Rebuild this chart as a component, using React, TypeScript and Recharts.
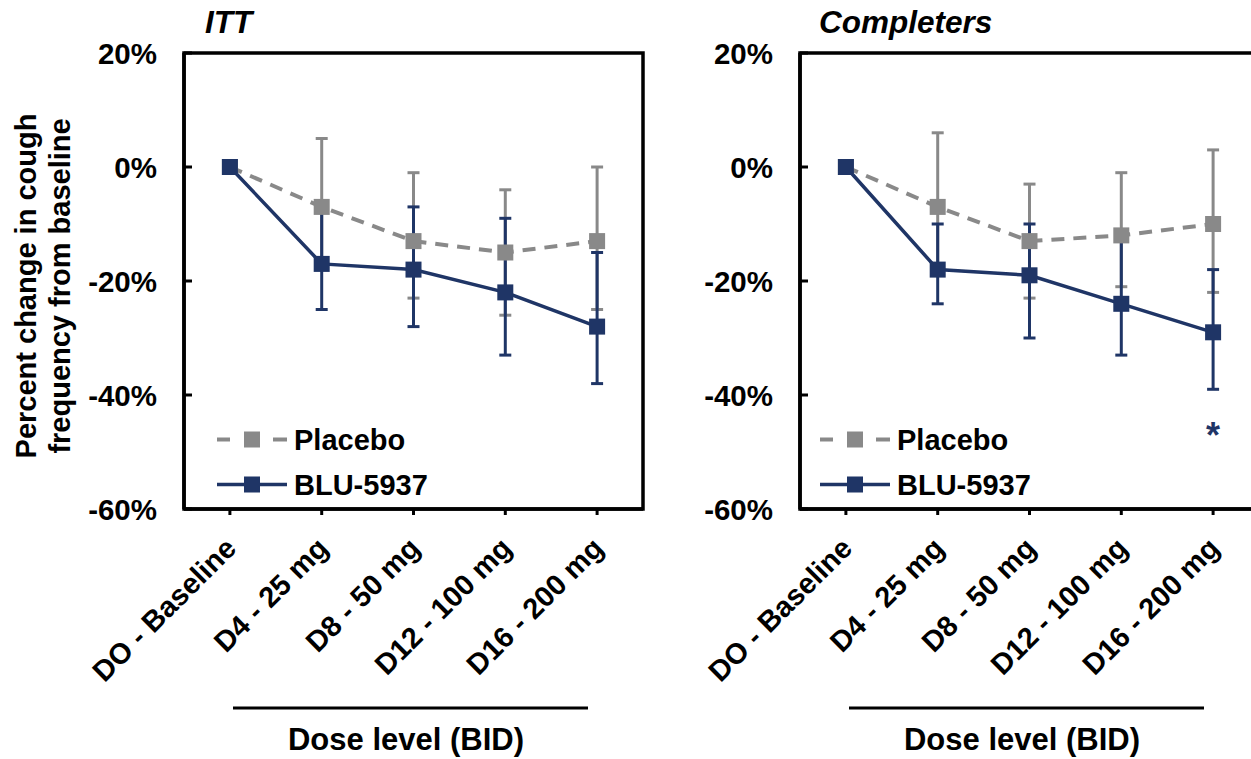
import React from 'react';
import { LineChart, Line, XAxis, YAxis, ErrorBar, ReferenceArea, ReferenceDot } from 'recharts';

// ---------- data ----------
const categories = ['DO - Baseline', 'D4 - 25 mg', 'D8 - 50 mg', 'D12 - 100 mg', 'D16 - 200 mg'];
const categoryIndex = [0, 1, 2, 3, 4];
const yTicks = [-60, -40, -20, 0, 20];

// ITT
const ittPlacebo = [0, -7, -13, -15, -13];
const ittPlaceboLow = [0, -17, -23, -26, -25];
const ittPlaceboHigh = [0, 5, -1, -4, 0];
const ittBlu = [0, -17, -18, -22, -28];
const ittBluLow = [0, -25, -28, -33, -38];
const ittBluHigh = [0, -7, -7, -9, -15];

// Completers
const compPlacebo = [0, -7, -13, -12, -10];
const compPlaceboLow = [0, -18, -23, -21, -22];
const compPlaceboHigh = [0, 6, -3, -1, 3];
const compBlu = [0, -18, -19, -24, -29];
const compBluLow = [0, -24, -30, -33, -39];
const compBluHigh = [0, -10, -10, -12, -18];

// significance marks (Completers)
const compStarIndex = 4;
const compStarValue = -47;

const panelTitles = ['ITT', 'Completers'];
const seriesNames = ['Placebo', 'BLU-5937'];
const xAxisTitle = 'Dose level (BID)';
const yAxisTitle = ['Percent change in cough', 'frequency from baseline'];

// ---------- styling ----------
const NAVY = '#1F3566';
const GRAY = '#898989';
const FONT = '"Liberation Sans", Arial, Helvetica, sans-serif';

function buildRows(p: number[], pl: number[], ph: number[], b: number[], bl: number[], bh: number[]) {
  return categoryIndex.map((i) => ({
    i,
    cat: categories[i],
    placebo: p[i],
    placeboErr: [p[i] - pl[i], ph[i] - p[i]],
    blu: b[i],
    bluErr: [b[i] - bl[i], bh[i] - b[i]],
  }));
}

const ittRows = buildRows(ittPlacebo, ittPlaceboLow, ittPlaceboHigh, ittBlu, ittBluLow, ittBluHigh);
const compRows = buildRows(compPlacebo, compPlaceboLow, compPlaceboHigh, compBlu, compBluLow, compBluHigh);

const squareDot = (color: string) => (props: any) => {
  const { cx, cy, index } = props;
  if (cx == null || cy == null) return <g key={`e${index}`} />;
  return <rect key={`d${index}`} x={cx - 8} y={cy - 8} width={16} height={16} fill={color} />;
};

const YTick = (props: any) => {
  const { x, y, payload } = props;
  const ax = x + 27;
  return (
    <g>
      <line x1={ax} x2={ax + 8} y1={y} y2={y} stroke="#000" strokeWidth={3} />
      <text x={x} y={y} dy={10.5} textAnchor="end" fontSize={29.5} fontWeight="bold" fontFamily={FONT} fill="#000">
        {payload.value}%
      </text>
    </g>
  );
};

const XTick = (props: any) => {
  const { x, y, payload } = props;
  const label = categories[payload.value];
  const tx = x + 8;
  const ty = y + 35;
  return (
    <text
      x={tx}
      y={ty}
      transform={`rotate(-45 ${tx} ${ty})`}
      textAnchor="end"
      fontSize={29}
      fontWeight="bold"
      fontFamily={FONT}
      fill="#000"
    >
      {label}
    </text>
  );
};

const xLabel = (props: any) => {
  const vb = props.viewBox || {};
  const x = vb.x ?? 0;
  const y = vb.y ?? 0;
  return (
    <g>
      <line x1={x + 49} x2={x + 404} y1={y + 199} y2={y + 199} stroke="#000" strokeWidth={3} />
      <text x={x + 222} y={y + 241} textAnchor="middle" fontSize={31} fontWeight="bold" fontFamily={FONT} fill="#000">
        {xAxisTitle}
      </text>
    </g>
  );
};

const yLabel = (props: any) => {
  const vb = props.viewBox || {};
  const cy = (vb.y ?? 0) + (vb.height ?? 0) / 2 + 5;
  const x1 = (vb.x ?? 0) + 36;
  const x2 = (vb.x ?? 0) + 70;
  return (
    <g>
      <text x={x1} y={cy} transform={`rotate(-90 ${x1} ${cy})`} textAnchor="middle" fontSize={29} fontWeight="bold" fontFamily={FONT} fill="#000">
        {yAxisTitle[0]}
      </text>
      <text x={x2} y={cy} transform={`rotate(-90 ${x2} ${cy})`} textAnchor="middle" fontSize={29} fontWeight="bold" fontFamily={FONT} fill="#000">
        {yAxisTitle[1]}
      </text>
    </g>
  );
};

function LegendBox() {
  return (
    <svg width={320} height={80} style={{ display: 'block', overflow: 'visible' }}>
      <line x1={0} x2={13} y1={14.5} y2={14.5} stroke={GRAY} strokeWidth={4} />
      <line x1={56} x2={70} y1={14.5} y2={14.5} stroke={GRAY} strokeWidth={4} />
      <rect x={27} y={6.5} width={16} height={16} fill={GRAY} />
      <text x={77} y={24.5} fontSize={29} fontWeight="bold" fontFamily={FONT} fill="#000">{seriesNames[0]}</text>
      <line x1={0} x2={70} y1={59.5} y2={59.5} stroke={NAVY} strokeWidth={3.5} />
      <rect x={27} y={51.5} width={16} height={16} fill={NAVY} />
      <text x={77} y={69.5} fontSize={29} fontWeight="bold" fontFamily={FONT} fill="#000">{seriesNames[1]}</text>
    </svg>
  );
}

function Panel(props: { rows: any[]; left: number; title: string; titleX: number; legendX: number; showY: boolean; star: boolean }) {
  const { rows, left, title, titleX, legendX, showY, star } = props;
  return (
    <div style={{ position: 'absolute', left, top: 0, width: 660, height: 759 }}>
      <LineChart width={660} height={759} data={rows} margin={{ top: 53, right: 17, bottom: 0, left: 0 }}>
        <XAxis
          dataKey="i"
          type="number"
          domain={[-0.5, 4.5]}
          ticks={categoryIndex}
          interval={0}
          tick={<XTick />}
          tickSize={6}
          tickMargin={0}
          tickLine={{ stroke: '#000', strokeWidth: 3 }}
          axisLine={{ stroke: '#000', strokeWidth: 3.5 }}
          height={250}
          label={xLabel}
        />
        <YAxis
          type="number"
          domain={[-60, 20]}
          ticks={yTicks}
          interval={0}
          width={184}
          tick={<YTick />}
          tickSize={0}
          tickMargin={27}
          tickLine={false}
          axisLine={{ stroke: '#000', strokeWidth: 3.5 }}
          label={showY ? yLabel : undefined}
        />
        <ReferenceArea x1={-0.5} x2={4.5} y1={-60} y2={20} fill="none" fillOpacity={0} stroke="#000" strokeWidth={3.5} ifOverflow="visible" />
        <Line dataKey="placebo" stroke="none" dot={false} activeDot={false} isAnimationActive={false} legendType="none">
          <ErrorBar dataKey="placeboErr" direction="y" width={6} strokeWidth={3} stroke={GRAY} isAnimationActive={false} />
        </Line>
        <Line dataKey="blu" stroke="none" dot={false} activeDot={false} isAnimationActive={false} legendType="none">
          <ErrorBar dataKey="bluErr" direction="y" width={6} strokeWidth={3} stroke={NAVY} isAnimationActive={false} />
        </Line>
        <Line
          dataKey="placebo"
          name={seriesNames[0]}
          type="linear"
          stroke={GRAY}
          strokeWidth={4}
          strokeDasharray="13 9"
          dot={squareDot(GRAY)}
          activeDot={false}
          isAnimationActive={false}
        />
        <Line
          dataKey="blu"
          name={seriesNames[1]}
          type="linear"
          stroke={NAVY}
          strokeWidth={3.5}
          dot={squareDot(NAVY)}
          activeDot={false}
          isAnimationActive={false}
        />
        {star && (
          <ReferenceDot
            x={compStarIndex}
            y={compStarValue}
            r={0}
            fill="none"
            stroke="none"
            label={{ value: '*', position: 'center', fill: NAVY, fontSize: 36, fontWeight: 'bold', fontFamily: FONT }}
          />
        )}
      </LineChart>
      <svg width={400} height={50} style={{ position: 'absolute', left: 0, top: 0, overflow: 'visible' }}>
        <text x={titleX} y={33} fontSize={31.5} fontWeight="bold" fontStyle="italic" fontFamily={FONT} fill="#000">
          {title}
        </text>
      </svg>
      <div style={{ position: 'absolute', left: legendX, top: 425 }}>
        <LegendBox />
      </div>
    </div>
  );
}

export default function App() {
  return (
    <div style={{ position: 'absolute', left: 0, top: 0, width: 1251, height: 759, overflow: 'hidden', background: '#fff' }}>
      <Panel rows={ittRows} left={0} title={panelTitles[0]} titleX={205} legendX={217} showY={true} star={false} />
      <Panel rows={compRows} left={616} title={panelTitles[1]} titleX={203} legendX={204} showY={false} star={true} />
    </div>
  );
}
